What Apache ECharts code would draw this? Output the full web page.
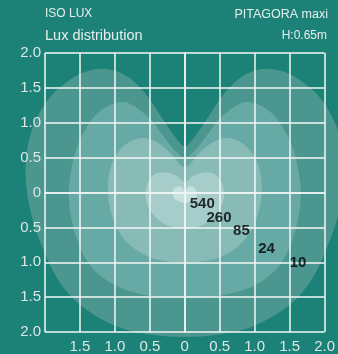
<!DOCTYPE html>
<html><head><meta charset="utf-8">
<script src="https://cdn.jsdelivr.net/npm/echarts@6/dist/echarts.min.js"></script>
<style>html,body{margin:0;padding:0;background:#1c8176}#c{width:338px;height:354px}</style>
</head><body><div id="c"></div><script>
// Tick values (labels shown as absolute distance in m)
const axisTicks = [-2, -1.5, -1, -0.5, 0, 0.5, 1, 1.5, 2];
// Iso-lux levels
const levels = [10, 24, 85, 260, 540];
// Contour outlines [x m, y m]
const contour10 = [[0,0.66],[0.11,0.76],[0.3,1.03],[0.58,1.44],[0.85,1.68],[1.12,1.77],[1.42,1.73],[1.72,1.56],[1.98,1.3],[2.2,0.86],[2.28,0.3],[2.2,-0.3],[2.01,-0.85],[1.78,-1.3],[1.45,-1.65],[0.95,-1.93],[0.47,-2.04],[0,-2.07],[-0.47,-2.04],[-0.95,-1.93],[-1.45,-1.65],[-1.78,-1.3],[-2.01,-0.85],[-2.2,-0.3],[-2.28,0.3],[-2.2,0.86],[-1.98,1.3],[-1.72,1.56],[-1.42,1.73],[-1.12,1.77],[-0.85,1.68],[-0.58,1.44],[-0.3,1.03],[-0.11,0.76]];
const contour24 = [[0,0.5],[0.12,0.58],[0.3,0.8],[0.5,1.06],[0.8,1.28],[1.0,1.28],[1.22,1.16],[1.4,0.94],[1.56,0.6],[1.65,0.15],[1.65,-0.2],[1.55,-0.65],[1.35,-1.05],[1.0,-1.33],[0.5,-1.48],[0,-1.5],[-0.5,-1.48],[-1.0,-1.33],[-1.35,-1.05],[-1.55,-0.65],[-1.65,-0.2],[-1.65,0.15],[-1.56,0.6],[-1.4,0.94],[-1.22,1.16],[-1.0,1.28],[-0.8,1.28],[-0.5,1.06],[-0.3,0.8],[-0.12,0.58]];
const contour85 = [[0,0.36],[0.2,0.56],[0.4,0.72],[0.6,0.78],[0.8,0.72],[0.97,0.56],[1.07,0.33],[1.1,0.0],[1.05,-0.3],[0.92,-0.6],[0.7,-0.82],[0.4,-0.96],[0,-1.0],[-0.4,-0.96],[-0.7,-0.82],[-0.92,-0.6],[-1.05,-0.3],[-1.1,0.0],[-1.07,0.33],[-0.97,0.56],[-0.8,0.72],[-0.6,0.78],[-0.4,0.72],[-0.2,0.56]];
const contour260 = [[0,0.15],[0.12,0.24],[0.3,0.29],[0.45,0.25],[0.55,0.08],[0.55,-0.12],[0.45,-0.32],[0.25,-0.47],[0,-0.52],[-0.25,-0.47],[-0.45,-0.32],[-0.55,-0.12],[-0.55,0.08],[-0.45,0.25],[-0.3,0.29],[-0.12,0.24]];
const contour540 = [[0,0.04],[0.06,0.085],[0.12,0.08],[0.17,0.02],[0.16,-0.07],[0.08,-0.13],[0,-0.15],[-0.08,-0.13],[-0.16,-0.07],[-0.17,0.02],[-0.12,0.08],[-0.06,0.085]];
const contourColors = ['#4b968f', '#67a9a4', '#88bab6', '#a6cdc9', '#c6e2de'];
// Level label positions [x m, y m]
const labelX = [1.62, 1.17, 0.81, 0.49, 0.25];
const labelY = [-1.01, -0.81, -0.55, -0.37, -0.17];

const contours = [contour10, contour24, contour85, contour260, contour540];
const fmt = v => v === 0 ? '0' : Math.abs(v).toFixed(1);
const font = 'Arial, "Liberation Sans", sans-serif';

const series = contours.map((pts, i) => ({
  type: 'custom',
  coordinateSystem: 'cartesian2d',
  clip: false,
  silent: true,
  z: 1 + i,
  data: pts,
  renderItem: (params, api) => {
    if (params.dataIndex !== 0) return null;
    return {
      type: 'polygon',
      shape: { points: pts.map(p => api.coord(p)), smooth: 0.35 },
      style: { fill: contourColors[i], stroke: null }
    };
  }
}));
series.push({
  type: 'scatter',
  symbolSize: 0,
  z: 20,
  data: levels.map((l, i) => ({ value: [labelX[i], labelY[i]], name: String(l) })),
  label: { show: true, position: 'inside', formatter: p => p.name,
    color: '#000', fontWeight: 'bold', fontSize: 15, fontFamily: font }
});

const axisCommon = {
  type: 'value', min: -2, max: 2, interval: 0.5, z: 10,
  axisLine: { show: true, lineStyle: { color: '#eef4f3', width: 1.5 } },
  axisTick: { show: false },
  splitLine: { show: true, lineStyle: { color: '#f4f8f7', width: 1.5 } }
};

const chart = echarts.init(document.getElementById('c'));
chart.setOption({
  backgroundColor: '#1c8176',
  animation: false,
  title: [
    { text: 'ISO LUX', left: 45, top: 8, padding: 0, textStyle: { fontSize: 12, color: '#e6efee', fontWeight: 'normal', fontFamily: font } },
    { text: 'Lux distribution', left: 45, top: 28, padding: 0, textStyle: { fontSize: 14.5, color: '#e6efee', fontWeight: 'normal', fontFamily: font } },
    { text: 'PITAGORA maxi', right: 10, top: 8, padding: 0, textStyle: { fontSize: 12.5, color: '#e6efee', fontWeight: 'normal', fontFamily: font } },
    { text: 'H:0.65m', right: 11, top: 30, padding: 0, textStyle: { fontSize: 12, color: '#e6efee', fontWeight: 'normal', fontFamily: font } }
  ],
  grid: { left: 45, top: 53, right: 11, bottom: 21, containLabel: false },
  xAxis: Object.assign({}, axisCommon, {
    axisLabel: { color: '#dbe8e6', fontSize: 15, fontFamily: font, margin: 7, showMinLabel: true, showMaxLabel: true,
      formatter: v => v === -2 ? '' : fmt(v) }
  }),
  yAxis: Object.assign({}, axisCommon, {
    axisLabel: { color: '#dbe8e6', fontSize: 15, fontFamily: font, margin: 4, showMinLabel: true, showMaxLabel: true,
      formatter: fmt }
  }),
  series: series
});
</script></body></html>
